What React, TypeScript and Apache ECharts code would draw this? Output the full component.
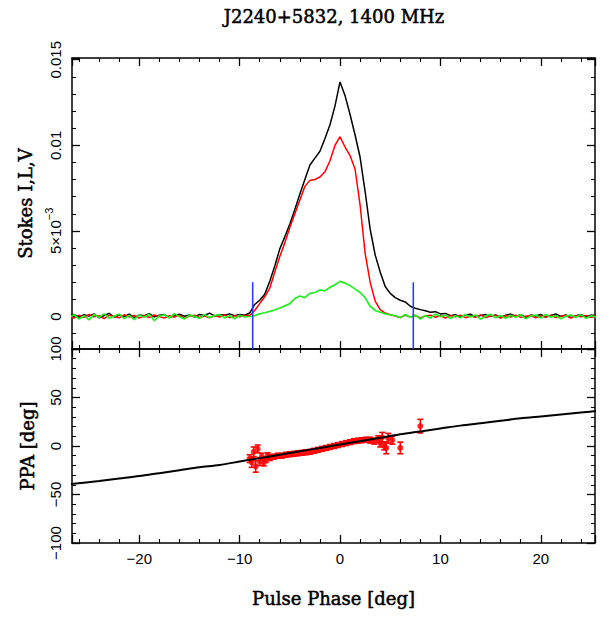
import React, { useEffect, useRef } from "react";
import * as echarts from "echarts";

const TITLE = "J2240+5832, 1400 MHz";
const X_NAME = "Pulse Phase [deg]";
const Y_TOP_NAME = "Stokes I,L,V";
const Y_BOT_NAME = "PPA [deg]";

// Pulse phase bins (deg)
const PHASE = [
  -27, -26.5, -26, -25.5, -25, -24.5, -24, -23.5, -23, -22.5,
  -22, -21.5, -21, -20.5, -20, -19.5, -19, -18.5, -18, -17.5,
  -17, -16.5, -16, -15.5, -15, -14.5, -14, -13.5, -13, -12.5,
  -12, -11.5, -11, -10.5, -10, -9.5, -9, -8.5, -8, -7.5,
  -7, -6.5, -6, -5.5, -5, -4.5, -4, -3.5, -3, -2.5,
  -2, -1.5, -1, -0.5, 0, 0.5, 1, 1.5, 2, 2.5,
  3, 3.5, 4, 4.5, 5, 5.5, 6, 6.5, 7, 7.5,
  8, 8.5, 9, 9.5, 10, 10.5, 11, 11.5, 12, 12.5,
  13, 13.5, 14, 14.5, 15, 15.5, 16, 16.5, 17, 17.5,
  18, 18.5, 19, 19.5, 20, 20.5, 21, 21.5, 22, 22.5,
  23, 23.5, 24, 24.5, 25, 25.5,
];

// Stokes values in units of 1e-3
const STOKES_I = [
  0.05, 0.12, -0.05, 0.10, 0.02, 0.15, -0.08, 0.06, 0.18, -0.03,
  0.09, 0.00, 0.14, -0.06, 0.08, 0.04, 0.16, -0.02, 0.07, 0.11,
  -0.07, 0.05, 0.13, 0.01, 0.09, -0.04, 0.12, 0.06, 0.20, 0.03,
  0.10, 0.08, 0.15, 0.05, 0.12, 0.07, 0.20, 0.70, 0.95, 1.30,
  2.05, 2.95, 3.95, 4.65, 5.40, 6.25, 7.15, 8.00, 8.85, 9.25,
  9.65, 10.40, 11.20, 12.30, 13.70, 12.90, 11.80, 10.60, 9.30, 7.30,
  5.10, 3.60, 2.60, 1.75, 1.35, 1.10, 0.95, 0.85, 0.60, 0.48,
  0.40, 0.33, 0.25, 0.28, 0.15, 0.18, 0.05, 0.10, -0.04, 0.08,
  0.13, -0.02, 0.06, 0.11, 0.00, 0.09, -0.06, 0.07, 0.14, 0.02,
  0.10, -0.05, 0.08, 0.03, 0.12, -0.03, 0.06, 0.15, 0.01, 0.09,
  -0.07, 0.05, 0.11, 0.00, 0.08, 0.04,
];

const STOKES_L = [
  0.02, -0.10, 0.08, -0.05, 0.12, -0.02, 0.05, -0.12, 0.07, 0.00,
  -0.08, 0.10, -0.03, 0.06, -0.10, 0.04, -0.06, 0.09, -0.01, -0.09,
  0.05, -0.04, 0.08, -0.11, 0.03, 0.07, -0.06, 0.02, -0.08, 0.06,
  -0.03, 0.09, -0.07, 0.04, -0.02, 0.06, 0.05, 0.35, 0.75, 1.15,
  1.65, 2.60, 3.50, 4.30, 5.20, 6.00, 6.80, 7.60, 7.95, 8.00,
  8.15, 8.45, 9.10, 10.00, 10.50, 9.90, 9.40, 8.60, 6.50, 3.70,
  2.00, 0.90, 0.40, 0.20, 0.10, 0.02, -0.06, 0.08, -0.03, 0.05,
  -0.08, 0.03, 0.07, -0.05, 0.04, -0.09, 0.06, -0.02, 0.08, -0.07,
  0.03, -0.04, 0.09, -0.06, 0.02, 0.07, -0.10, 0.04, -0.03, 0.08,
  -0.05, 0.01, 0.06, -0.08, 0.03, -0.04, 0.07, -0.06, 0.02, 0.05,
  -0.09, 0.04, -0.02, 0.06, -0.05, 0.03,
];

const STOKES_V = [
  -0.08, 0.10, -0.15, 0.05, -0.20, 0.12, -0.05, 0.15, -0.10, 0.02,
  0.14, -0.12, 0.06, -0.18, 0.09, -0.04, 0.13, -0.25, 0.03, 0.10,
  -0.09, 0.16, -0.02, -0.14, 0.08, 0.01, -0.11, 0.12, -0.06, 0.05,
  0.11, -0.08, 0.04, -0.13, 0.07, -0.03, 0.00, 0.05, 0.15, 0.22,
  0.30, 0.38, 0.50, 0.62, 0.75, 1.05, 1.20, 1.10, 1.35, 1.40,
  1.55, 1.50, 1.70, 1.85, 2.05, 1.95, 1.80, 1.60, 1.40, 1.10,
  0.60, 0.35, 0.25, 0.15, 0.10, 0.05, -0.08, 0.12, -0.04, 0.09,
  -0.15, 0.06, -0.10, 0.14, -0.02, 0.08, -0.12, 0.04, -0.07, 0.11,
  -0.03, 0.09, -0.16, 0.02, 0.13, -0.08, 0.05, -0.11, 0.07, -0.05,
  0.10, -0.14, 0.03, 0.08, -0.09, 0.12, -0.04, 0.06, -0.13, 0.01,
  0.09, -0.06, 0.11, -0.10, 0.04, -0.02,
];

// On-pulse window markers (deg) and their top (1e-3)
const WINDOW_EDGES = [-8.7, 7.3];
const WINDOW_TOP = 2.0;

// Position angle measurements
const PPA_PHASE = [
  -9.0, -8.8, -8.6, -8.4, -8.2, -8.0, -7.8, -7.6, -7.4, -7.2,
  -7.0, -6.6, -6.2, -5.8, -5.4, -5.0, -4.6, -4.2, -3.8, -3.4,
  -3.0, -2.6, -2.2, -1.8, -1.4, -1.0, -0.6, -0.2, 0.2, 0.6,
  1.0, 1.4, 1.8, 2.2, 2.6, 3.0, 3.4, 3.8, 4.0, 4.2,
  4.4, 4.6, 4.8, 5.2, 6.0, 8.0,
];
const PPA_DEG = [
  -13, -17, -6, -21, -3, -16, -11, -17, -14, -10,
  -12, -11, -10, -10, -9, -8.5, -8, -7.5, -7, -6.5,
  -6, -5, -4, -3, -2, -1, 0, 1, 2, 3,
  4, 5, 5.5, 6, 6.5, 6, 5, 7, 3, 9,
  0, -2, 8, 6, -2, 20.5,
];
const PPA_ERR = [
  4, 5, 5, 6, 4, 4, 3.5, 3.5, 3, 3,
  3, 2.5, 2.5, 2.5, 2.5, 2.5, 2.5, 2.5, 2.5, 2.5,
  2.5, 2.5, 2.5, 2.5, 2.5, 2.5, 2.5, 2.5, 2.5, 2.5,
  2.5, 2.5, 2.5, 2.5, 2.5, 3, 3, 3.5, 4, 5,
  4, 6, 5, 4, 6, 7,
];

// RVM fit curve
const FIT_PHASE = [-27, -24, -22, -20, -18, -16, -14, -12, -10, -8, -6, -4, -2, 0, 2, 4, 6, 8, 10, 12, 14, 16, 18, 20, 22, 24, 26];
const FIT_PPA = [-39.5, -36, -33.5, -31, -28, -25, -22, -19.5, -16, -12.5, -9, -5.5, -2, 1.5, 5, 8.5, 12, 15, 18, 21, 23.5, 26, 28.5, 30.5, 32.5, 34.5, 36.5];

const X_MIN = -26.7;
const X_MAX = 25.4;
const YT_MIN = -1.9;
const YT_MAX = 15.1;

const LABEL_FONT = "'Liberation Sans', 'DejaVu Sans', sans-serif";
const TITLE_FONT = "'DejaVu Serif', 'Liberation Serif', serif";

const minus = (s: string) => s.replace(/-/g, "\u2212");

const NAME_STYLE = {
  fontFamily: TITLE_FONT,
  fontSize: 18,
  fontWeight: "normal",
  color: "#000",
  textBorderColor: "#000",
  textBorderWidth: 0.5,
};

function xAxis(gridIndex: number, position: string, labels: boolean, name?: string) {
  return {
    type: "value",
    gridIndex,
    position,
    min: X_MIN,
    max: X_MAX,
    splitNumber: 5,
    name: name || "",
    nameLocation: "middle",
    nameGap: 46,
    nameTextStyle: NAME_STYLE,
    axisLine: { show: true, onZero: false, lineStyle: { color: "#000", width: 1.5 } },
    axisTick: { show: true, inside: true, length: 8, lineStyle: { color: "#000", width: 1.3 } },
    minorTick: { show: true, splitNumber: 5, length: 4, lineStyle: { color: "#000", width: 1.1 } },
    splitLine: { show: false },
    minorSplitLine: { show: false },
    axisLabel: {
      show: labels,
      showMinLabel: false,
      showMaxLabel: false,
      margin: 8,
      color: "#000",
      fontFamily: LABEL_FONT,
      fontSize: 15,
      formatter: (v: number) => minus(String(v)),
    },
  };
}

export default function App() {
  const ref = useRef<HTMLDivElement>(null);
  useEffect(() => {
    if (!ref.current) return;
    const chart = echarts.init(ref.current, null, { renderer: "svg" });
    const profile = (vals: number[]) => PHASE.map((p, i) => [p, vals[i]]);
    const errData = PPA_PHASE.map((p, i) => [p, PPA_DEG[i], PPA_ERR[i]]);

    const topYLabel = (v: number) => {
      if (Math.abs(v) < 1e-9) return "{b|0}";
      if (Math.abs(v - 5) < 1e-9) return "{b|5\u00d710}{s|\u22123}";
      if (Math.abs(v - 10) < 1e-9) return "{b|0.01}";
      if (Math.abs(v - 15) < 1e-9) return "{b|0.015}";
      return "";
    };

    const yCommon = {
      axisLine: { show: true, onZero: false, lineStyle: { color: "#000", width: 1.5 } },
      axisTick: { show: true, inside: true, length: 8, lineStyle: { color: "#000", width: 1.3 } },
      minorTick: { show: true, splitNumber: 5, length: 4, lineStyle: { color: "#000", width: 1.1 } },
      splitLine: { show: false },
      minorSplitLine: { show: false },
      nameLocation: "middle",
      nameRotate: 90,
      nameTextStyle: NAME_STYLE,
    };

    chart.setOption({
      animation: false,
      backgroundColor: "#fff",
      grid: [
        { left: 72, right: 17, top: 58, height: 291 },
        { left: 72, right: 17, top: 349, height: 194 },
      ],
      graphic: [
        {
          type: "text",
          x: 334,
          y: 16,
          style: {
            text: TITLE,
            align: "center",
            verticalAlign: "middle",
            fontFamily: TITLE_FONT,
            fontSize: 18,
            fill: "#000",
            stroke: "#000",
            lineWidth: 0.5,
          },
        },
      ],
      xAxis: [
        xAxis(0, "bottom", false),
        xAxis(0, "top", false),
        xAxis(1, "bottom", true, X_NAME),
        xAxis(1, "top", false),
      ],
      yAxis: [
        {
          ...yCommon,
          type: "value",
          gridIndex: 0,
          position: "left",
          min: YT_MIN,
          max: YT_MAX,
          splitNumber: 3,
          name: Y_TOP_NAME,
          nameGap: 36,
          axisLabel: {
            rotate: 90,
            margin: 9,
            color: "#000",
            fontFamily: LABEL_FONT,
            fontSize: 15,
            formatter: topYLabel,
            rich: {
              b: { fontSize: 15, fontFamily: LABEL_FONT, color: "#000", lineHeight: 20, verticalAlign: "bottom" },
              s: { fontSize: 11, fontFamily: LABEL_FONT, color: "#000", lineHeight: 20, verticalAlign: "top" },
            },
          },
        },
        {
          ...yCommon,
          type: "value",
          gridIndex: 0,
          position: "right",
          min: YT_MIN,
          max: YT_MAX,
          splitNumber: 3,
          axisLabel: { show: false },
        },
        {
          ...yCommon,
          type: "value",
          gridIndex: 1,
          position: "left",
          min: -100,
          max: 100,
          interval: 50,
          name: Y_BOT_NAME,
          nameGap: 36,
          axisLabel: {
            rotate: 90,
            margin: 9,
            color: "#000",
            fontFamily: LABEL_FONT,
            fontSize: 15,
            formatter: (v: number) => minus(String(v)),
          },
        },
        {
          ...yCommon,
          type: "value",
          gridIndex: 1,
          position: "right",
          min: -100,
          max: 100,
          interval: 50,
          axisLabel: { show: false },
        },
      ],
      series: [
        {
          type: "line",
          xAxisIndex: 0,
          yAxisIndex: 0,
          data: profile(STOKES_I),
          showSymbol: false,
          lineStyle: { color: "#000", width: 1.5 },
          z: 2,
        },
        {
          type: "line",
          xAxisIndex: 0,
          yAxisIndex: 0,
          data: profile(STOKES_L),
          showSymbol: false,
          lineStyle: { color: "#ff0000", width: 1.5 },
          z: 3,
        },
        {
          type: "line",
          xAxisIndex: 0,
          yAxisIndex: 0,
          data: profile(STOKES_V),
          showSymbol: false,
          lineStyle: { color: "#22ee22", width: 1.7 },
          z: 4,
        },
        ...WINDOW_EDGES.map((x) => ({
          type: "line",
          xAxisIndex: 0,
          yAxisIndex: 0,
          data: [
            [x, WINDOW_TOP],
            [x, YT_MIN],
          ],
          showSymbol: false,
          lineStyle: { color: "#2a3cff", width: 1.6 },
          z: 5,
        })),
        {
          type: "custom",
          xAxisIndex: 2,
          yAxisIndex: 2,
          data: errData,
          encode: { x: 0, y: 1 },
          renderItem: (params: any, api: any) => {
            const x = api.value(0);
            const y = api.value(1);
            const e = api.value(2);
            const t = api.coord([x, y + e]);
            const b = api.coord([x, y - e]);
            const st = { stroke: "#ff0000", lineWidth: 1.6 };
            return {
              type: "group",
              children: [
                { type: "line", shape: { x1: t[0], y1: t[1], x2: b[0], y2: b[1] }, style: st },
                { type: "line", shape: { x1: t[0] - 3, y1: t[1], x2: t[0] + 3, y2: t[1] }, style: st },
                { type: "line", shape: { x1: b[0] - 3, y1: b[1], x2: b[0] + 3, y2: b[1] }, style: st },
              ],
            };
          },
          z: 2,
        },
        {
          type: "scatter",
          xAxisIndex: 2,
          yAxisIndex: 2,
          data: PPA_PHASE.map((p, i) => [p, PPA_DEG[i]]),
          symbol: "circle",
          symbolSize: 6,
          itemStyle: { color: "#ff0000" },
          z: 3,
        },
        {
          type: "line",
          xAxisIndex: 2,
          yAxisIndex: 2,
          data: FIT_PHASE.map((p, i) => [p, FIT_PPA[i]]),
          showSymbol: false,
          smooth: 0.3,
          lineStyle: { color: "#000", width: 2 },
          z: 4,
        },
      ],
    });
    return () => chart.dispose();
  }, []);
  return (
    <div
      ref={ref}
      style={{ position: "fixed", left: 0, top: 0, width: 612, height: 619, background: "#fff" }}
    />
  );
}
